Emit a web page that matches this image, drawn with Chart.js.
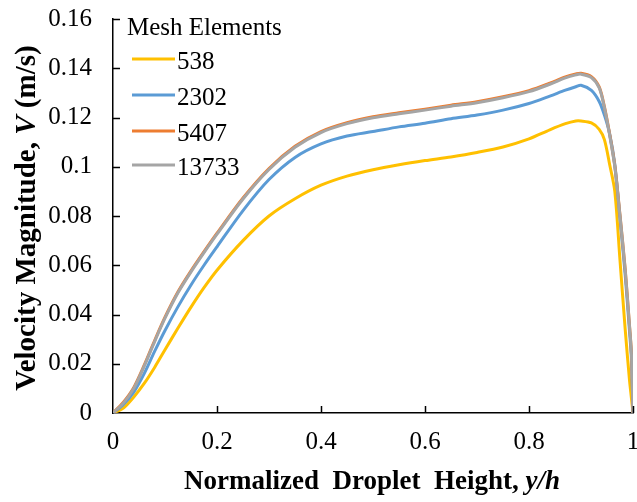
<!DOCTYPE html>
<html>
<head>
<meta charset="utf-8">
<script src="https://cdn.jsdelivr.net/npm/chart.js@4.4.0/dist/chart.umd.min.js"></script>
<style>
html,body{margin:0;padding:0;background:#fff;}
#wrap{width:637px;height:502px;position:relative;}
</style>
</head>
<body>
<div id="wrap"><canvas id="c" width="637" height="502"></canvas></div>
<script>
// Normalized droplet height y/h
const yh = [0,0.02,0.04,0.06,0.08,0.1,0.125,0.15,0.175,0.2,0.25,0.3,0.35,0.4,0.45,0.5,0.55,0.6,0.65,0.7,0.75,0.8,0.84,0.87,0.89,0.9,0.92,0.935,0.945,0.955,0.965,0.975,0.985,0.993,0.997,1.0];
const seriesLabels = ['538','2302','5407','13733'];
const v538   = [0,0.002,0.0065,0.012,0.0185,0.0257,0.0345,0.043,0.0509,0.058,0.070,0.080,0.087,0.0925,0.0962,0.0988,0.1008,0.1025,0.104,0.1058,0.108,0.1113,0.115,0.1175,0.1186,0.1186,0.1178,0.1152,0.111,0.101,0.090,0.062,0.034,0.014,0.006,0];
const v2302  = [0,0.0035,0.0085,0.016,0.025,0.0335,0.0432,0.052,0.060,0.0675,0.0822,0.0948,0.1038,0.1093,0.1125,0.1143,0.1162,0.1177,0.1195,0.1210,0.1230,0.1257,0.1287,0.1311,0.1325,0.1331,0.1310,0.1265,0.121,0.1135,0.101,0.079,0.056,0.034,0.022,0];
const v5407  = [0,0.0044,0.0104,0.0194,0.0294,0.0389,0.0492,0.0577,0.0655,0.0730,0.0873,0.0993,0.1083,0.1143,0.1179,0.1203,0.1219,0.1234,0.1250,0.1264,0.1284,0.1309,0.1339,0.1365,0.1377,0.1380,0.1366,0.1324,0.1244,0.1134,0.1004,0.0804,0.0584,0.0364,0.0244,0];
const v13733 = [0,0.004,0.010,0.019,0.029,0.0385,0.0488,0.0573,0.0651,0.0726,0.0869,0.0989,0.1079,0.1139,0.1175,0.1199,0.1215,0.1230,0.1246,0.1260,0.1280,0.1305,0.1335,0.1361,0.1373,0.1376,0.1362,0.1320,0.124,0.113,0.100,0.080,0.058,0.036,0.024,0];
const xTicks = [0,0.2,0.4,0.6,0.8,1];
const yTicks = [0,0.02,0.04,0.06,0.08,0.1,0.12,0.14,0.16];
const colors = ['#FFC000','#5B9BD5','#ED7D31','#A5A5A5'];
const legendTitle = 'Mesh Elements';

const allSeries = [v538, v2302, v5407, v13733];
const drawOrder = [3, 2, 1, 0];
const datasets = allSeries.map((vals, i) => ({
  label: seriesLabels[i],
  data: yh.map((x, k) => ({x: x, y: vals[k]})),
  borderColor: colors[i],
  backgroundColor: colors[i],
  borderWidth: 3,
  pointRadius: 0,
  fill: false,
  tension: 0.3,
  order: drawOrder[i]
}));

const SERIF = '"Liberation Serif", "Times New Roman", serif';

const customPlugin = {
  id: 'custom',
  afterDraw(chart) {
    const ctx = chart.ctx;
    const xs = chart.scales.x, ys = chart.scales.y;
    const area = chart.chartArea;
    ctx.save();
    // inward ticks
    ctx.strokeStyle = '#000';
    ctx.lineWidth = 1.5;
    ctx.beginPath();
    xTicks.forEach(t => {
      if (t === 0) return;
      const px = Math.round(xs.getPixelForValue(t)) + 0.5;
      ctx.moveTo(px, area.bottom);
      ctx.lineTo(px, area.bottom - 7);
    });
    yTicks.forEach(t => {
      if (t === 0) return;
      const py = Math.round(ys.getPixelForValue(t)) + 0.5;
      ctx.moveTo(area.left, py);
      ctx.lineTo(area.left + 7, py);
    });
    ctx.stroke();

    ctx.fillStyle = '#000';
    ctx.textBaseline = 'alphabetic';
    const drawMixed = (parts, cx, cy) => {
      let total = 0;
      parts.forEach(p => { ctx.font = p.f; total += ctx.measureText(p.t).width; });
      let x = cx - total / 2;
      parts.forEach(p => { ctx.font = p.f; ctx.textAlign = 'left'; ctx.fillText(p.t, x, cy); x += ctx.measureText(p.t).width; });
    };
    const BX = 'bold 27px ' + SERIF, BIX = 'italic bold 27px ' + SERIF;
    drawMixed([{t:'Normalized  Droplet  Height, ', f:BX},{t:'y/h', f:BIX}], 372, 489);
    const BY = 'bold 29px ' + SERIF, BIY = 'italic bold 29px ' + SERIF;
    ctx.save();
    ctx.translate(35, 218);
    ctx.rotate(-Math.PI / 2);
    drawMixed([{t:'Velocity Magnitude, ', f:BY},{t:'V', f:BIY},{t:' (m/s)', f:BY}], 0, 0);
    ctx.restore();

    // legend
    ctx.font = '25px ' + SERIF;
    ctx.textAlign = 'left';
    ctx.fillText(legendTitle, 127, 35);
    const rowY = [59, 95, 131, 165];
    chart.data.datasets.forEach((ds, i) => {
      ctx.strokeStyle = ds.borderColor;
      ctx.lineWidth = 3;
      ctx.beginPath();
      ctx.moveTo(132, rowY[i]);
      ctx.lineTo(175, rowY[i]);
      ctx.stroke();
      ctx.fillStyle = '#000';
      ctx.textBaseline = 'alphabetic';
      ctx.fillText(ds.label, 177, rowY[i] + 10);
    });
    ctx.restore();
  }
};

new Chart(document.getElementById('c'), {
  type: 'line',
  data: { datasets },
  options: {
    responsive: false,
    animation: false,
    devicePixelRatio: 1,
    layout: { padding: { top: 19, right: 4, left: 0, bottom: 0 } },
    plugins: { legend: { display: false }, tooltip: { enabled: false } },
    scales: {
      x: {
        type: 'linear', min: 0, max: 1,
        afterFit(s) { s.height = 89; s.paddingLeft = 0; s.paddingRight = 0; },
        afterBuildTicks(s) { s.ticks = xTicks.map(v => ({value: v})); },
        ticks: { color: '#000', font: { family: SERIF, size: 25 }, padding: 14, maxRotation: 0, callback: v => String(v) },
        grid: { display: true, drawOnChartArea: false, drawTicks: false },
        border: { color: '#000', width: 1.5 }
      },
      y: {
        type: 'linear', min: 0, max: 0.16,
        afterFit(s) { s.width = 113; s.paddingTop = 0; s.paddingBottom = 0; },
        afterBuildTicks(s) { s.ticks = yTicks.map(v => ({value: v})); },
        ticks: { color: '#000', font: { family: SERIF, size: 25 }, padding: 21, callback: v => String(v) },
        grid: { display: true, drawOnChartArea: false, drawTicks: false },
        border: { color: '#000', width: 1.5 }
      }
    }
  },
  plugins: [customPlugin]
});
</script>
</body>
</html>
